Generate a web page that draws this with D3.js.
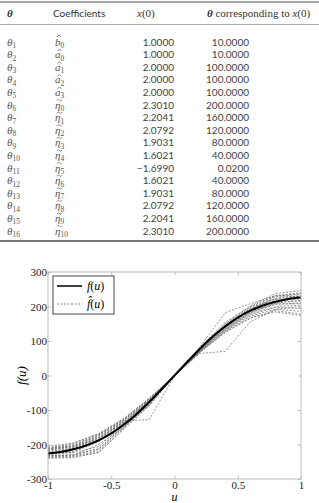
<!DOCTYPE html>
<html>
<head>
<meta charset="utf-8">
<script src="https://cdn.jsdelivr.net/npm/d3@7"></script>
<style>
  body { margin: 0; background: #fff; }
  svg { display: block; }
</style>
</head>
<body>
<div id="chart"></div>
<script>
// ---- table data ----
var thetaSubs = [1, 2, 3, 4, 5, 6, 7, 8, 9, 10, 11, 12, 13, 14, 15, 16];
var coefLetters = ["b", "a", "a", "a", "a", "η", "η", "η", "η", "η", "η", "η", "η", "η", "η", "η"];
var coefMarks = ["hat", "hat", "hat", "hat", "hat", "tilde", "tilde", "tilde", "tilde", "tilde", "tilde", "tilde", "tilde", "tilde", "tilde", "tilde"];
var coefSubs = [0, 0, 1, 2, 3, 0, 1, 2, 3, 4, 5, 6, 7, 8, 9, 10];
var x0Values = [1.0000, 1.0000, 2.0000, 2.0000, 2.0000, 2.3010, 2.2041, 2.0792, 1.9031, 1.6021, -1.6990, 1.6021, 1.9031, 2.0792, 2.2041, 2.3010];
var thetaValues = [10, 10, 100, 100, 100, 200, 160, 120, 80, 40, 0.02, 40, 80, 120, 160, 200];

// ---- chart data ----
var uTicks = [-1, -0.5, 0, 0.5, 1];
var fTicks = [-300, -200, -100, 0, 100, 200, 300];
var uFine = [-1, -0.9, -0.8, -0.7, -0.6, -0.5, -0.4, -0.3, -0.2, -0.1, 0, 0.1, 0.2, 0.3, 0.4, 0.5, 0.6, 0.7, 0.8, 0.9, 1];
var fTrue = [-226, -222, -214, -203, -188, -168, -142, -112, -77, -39, 0, 39, 77, 112, 142, 168, 188, 203, 214, 222, 226];
var uKnots = [-1, -0.8, -0.6, -0.4, -0.2, 0, 0.2, 0.4, 0.6, 0.8, 1];
var fEstimates = [
    [-222, -210, -180, -134, -72, 0, 76, 144, 196, 224, 232],
    [-232, -234, -218, -150, -80, 0, 70, 132, 178, 200, 204],
    [-214, -204, -172, -128, -70, 0, 82, 182, 208, 232, 240],
    [-236, -232, -200, -150, -84, 0, 64, 70, 156, 192, 200],
    [-205, -196, -168, -124, -66, 0, 80, 150, 202, 238, 246],
    [-240, -238, -222, -156, -88, 0, 68, 126, 168, 184, 174],
    [-218, -204, -186, -132, -128, 0, 72, 134, 182, 210, 218],
    [-228, -220, -190, -140, -76, 0, 78, 146, 192, 220, 226],
    [-210, -204, -176, -132, -74, 0, 74, 142, 190, 228, 236],
    [-232, -230, -212, -148, -82, 0, 66, 128, 172, 192, 186],
    [-220, -212, -182, -136, -75, 0, 75, 138, 186, 212, 216],
    [-226, -224, -206, -142, -78, 0, 71, 134, 182, 206, 210],
    [-212, -206, -176, -130, -71, 0, 79, 148, 198, 230, 238],
    [-234, -230, -214, -146, -84, 0, 69, 130, 176, 198, 194],
    [-208, -200, -172, -126, -68, 0, 82, 154, 200, 232, 228],
    [-224, -214, -186, -138, -77, 0, 73, 140, 188, 216, 222],
    [-238, -236, -224, -152, -86, 0, 67, 124, 166, 188, 178],
    [-216, -208, -180, -138, -73, 0, 77, 145, 194, 222, 230],
    [-230, -222, -192, -144, -79, 0, 72, 136, 184, 208, 208],
    [-214, -196, -170, -128, -66, 0, 76, 142, 190, 218, 224]
];

var W = 319, H = 503;
var svg = d3.select("#chart").append("svg")
    .attr("width", W)
    .attr("height", H);

var sans = "Lato, 'Open Sans', sans-serif";
var serif = "'Liberation Serif', 'DejaVu Serif', serif";

// ---- table ----
var row = d3.scaleLinear().domain([0, 15]).range([42, 231]);
var fmt = d3.format(".4f");

svg.append("line").attr("x1", 0).attr("x2", W).attr("y1", 2).attr("y2", 2)
    .attr("stroke", "#888").attr("stroke-width", 1.6);
svg.append("line").attr("x1", 0).attr("x2", W).attr("y1", 24.5).attr("y2", 24.5)
    .attr("stroke", "#aaa").attr("stroke-width", 1);
svg.append("line").attr("x1", 0).attr("x2", W).attr("y1", 241).attr("y2", 241)
    .attr("stroke", "#777").attr("stroke-width", 2);

var head = svg.append("g").attr("fill", "#333");
head.append("text").attr("x", 7).attr("y", 17)
    .attr("font-family", serif).attr("font-style", "italic").attr("font-weight", "bold")
    .attr("font-size", 11).text("θ");
head.append("text").attr("x", 53).attr("y", 17)
    .attr("font-family", sans).attr("font-size", 10).text("Coefficients");
var hx = head.append("text").attr("x", 137).attr("y", 17)
    .attr("font-family", serif).attr("font-size", 11);
hx.append("tspan").attr("font-style", "italic").text("x");
hx.append("tspan").text("(0)");
var ht = head.append("text").attr("x", 207).attr("y", 17)
    .attr("font-family", serif).attr("font-size", 11);
ht.append("tspan").attr("font-style", "italic").attr("font-weight", "bold").text("θ");
ht.append("tspan").text(" corresponding to ");
ht.append("tspan").attr("font-style", "italic").text("x");
ht.append("tspan").text("(0)");

var rows = svg.append("g").selectAll("g")
    .data(thetaSubs)
    .join("g")
    .attr("transform", function(d, i) { return "translate(0," + (row(i) + 3.5) + ")"; });

rows.each(function(d, i) {
    var g = d3.select(this);
    var t = g.append("text").attr("x", 7)
        .attr("font-family", serif).attr("font-style", "italic")
        .attr("font-size", 11).attr("fill", "#555");
    t.append("tspan").text("θ");
    t.append("tspan").attr("font-size", 7.5).attr("dy", 2.5).attr("font-style", "normal").text(d);

    var c = g.append("text").attr("x", 55)
        .attr("font-family", serif).attr("font-style", "italic")
        .attr("font-size", 11).attr("fill", "#555");
    c.append("tspan").text(coefLetters[i]);
    c.append("tspan").attr("font-size", 7.5).attr("dy", 2.5).attr("font-style", "normal").text(coefSubs[i]);

    // accent over the letter
    var p = d3.path();
    var cx = coefLetters[i] === "b" ? 59 : 59.5;
    var top = coefLetters[i] === "b" ? -10.5 : -9;
    if (coefMarks[i] === "hat") {
        p.moveTo(cx - 2, top + 2);
        p.lineTo(cx, top);
        p.lineTo(cx + 2, top + 2);
    } else {
        p.moveTo(cx - 2.5, top + 1.2);
        p.bezierCurveTo(cx - 1.5, top - 0.6, cx - 0.5, top - 0.2, cx, top + 0.6);
        p.bezierCurveTo(cx + 0.5, top + 1.4, cx + 1.5, top + 1.6, cx + 2.5, top);
    }
    g.append("path").attr("d", p.toString())
        .attr("fill", "none").attr("stroke", "#555").attr("stroke-width", 0.7);

    g.append("text").attr("x", 174).attr("text-anchor", "end")
        .attr("font-family", sans).attr("font-size", 10).attr("fill", "#444")
        .text(fmt(x0Values[i]));
    g.append("text").attr("x", 249).attr("text-anchor", "end")
        .attr("font-family", sans).attr("font-size", 10).attr("fill", "#444")
        .text(fmt(thetaValues[i]));
});

// ---- chart ----
var x = d3.scaleLinear().domain([-1, 1]).range([48, 301]);
var y = d3.scaleLinear().domain([-300, 300]).range([479, 272]);

var plot = svg.append("g");

var line = d3.line()
    .x(function(d) { return x(d[0]); })
    .y(function(d) { return y(d[1]); });

fEstimates.forEach(function(s) {
    plot.append("path")
        .datum(d3.zip(uKnots, s))
        .attr("fill", "none")
        .attr("stroke", "#666")
        .attr("stroke-width", 0.7)
        .attr("stroke-dasharray", "2,1.5")
        .attr("d", line);
});

plot.append("path")
    .datum(d3.zip(uFine, fTrue))
    .attr("fill", "none")
    .attr("stroke", "#000")
    .attr("stroke-width", 2)
    .attr("d", line.curve(d3.curveMonotoneX));

// frame
svg.append("rect")
    .attr("x", x(-1)).attr("y", y(300))
    .attr("width", x(1) - x(-1)).attr("height", y(-300) - y(300))
    .attr("fill", "none").attr("stroke", "#bbb").attr("stroke-width", 1);

var axFont = function(g) {
    g.select(".domain").remove();
    g.selectAll("line").attr("stroke", "#bbb");
    g.selectAll("text").attr("font-family", serif).attr("font-size", 11).attr("fill", "#222");
};

svg.append("g")
    .attr("transform", "translate(0," + y(-300) + ")")
    .call(d3.axisBottom(x).tickValues(uTicks).tickSize(-3).tickPadding(2).tickFormat(function(d) { return String(d); }))
    .call(axFont);
svg.append("g")
    .attr("transform", "translate(0," + y(300) + ")")
    .call(d3.axisTop(x).tickValues(uTicks).tickSize(-3).tickFormat(""))
    .call(axFont);
svg.append("g")
    .attr("transform", "translate(" + x(-1) + ",0)")
    .call(d3.axisLeft(y).tickValues(fTicks).tickSize(-3).tickPadding(1).tickFormat(function(d) { return String(d); }))
    .call(axFont);
svg.append("g")
    .attr("transform", "translate(" + x(1) + ",0)")
    .call(d3.axisRight(y).tickValues(fTicks).tickSize(-3).tickFormat(""))
    .call(axFont);

// axis labels
svg.append("text")
    .attr("x", x(0)).attr("y", 501)
    .attr("text-anchor", "middle")
    .attr("font-family", serif).attr("font-style", "italic").attr("font-size", 12)
    .text("u");
svg.append("text")
    .attr("transform", "translate(26," + y(0) + ") rotate(-90)")
    .attr("text-anchor", "middle")
    .attr("font-family", serif).attr("font-style", "italic").attr("font-size", 13)
    .text("f(u)");

// legend
var leg = svg.append("g");
leg.append("rect")
    .attr("x", 53).attr("y", 276).attr("width", 61).attr("height", 38)
    .attr("fill", "#fff").attr("stroke", "#444").attr("stroke-width", 1);
leg.append("line").attr("x1", 57).attr("x2", 82).attr("y1", 286).attr("y2", 286)
    .attr("stroke", "#000").attr("stroke-width", 1.5);
leg.append("line").attr("x1", 57).attr("x2", 82).attr("y1", 304).attr("y2", 304)
    .attr("stroke", "#666").attr("stroke-width", 0.8).attr("stroke-dasharray", "2,1.5");
var l1 = leg.append("text").attr("x", 87).attr("y", 290)
    .attr("font-family", serif).attr("font-size", 12);
l1.append("tspan").attr("font-style", "italic").text("f");
l1.append("tspan").text("(");
l1.append("tspan").attr("font-style", "italic").text("u");
l1.append("tspan").text(")");
var l2 = leg.append("text").attr("x", 87).attr("y", 308)
    .attr("font-family", serif).attr("font-size", 12);
l2.append("tspan").attr("font-style", "italic").text("f\u0302");
l2.append("tspan").text("(");
l2.append("tspan").attr("font-style", "italic").text("u");
l2.append("tspan").text(")");
</script>
</body>
</html>
